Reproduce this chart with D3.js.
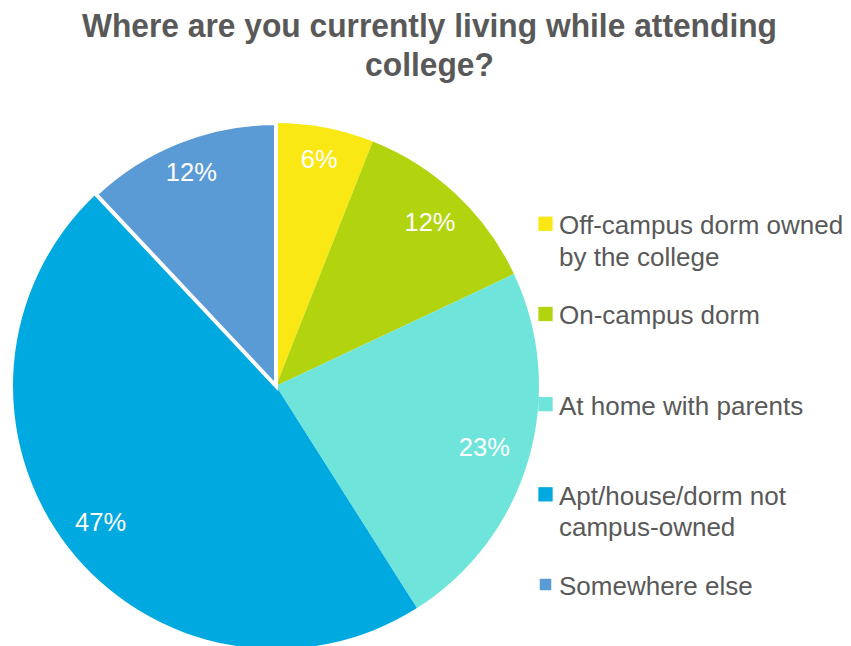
<!DOCTYPE html>
<html>
<head>
<meta charset="utf-8">
<script src="https://cdn.jsdelivr.net/npm/d3@7"></script>
<style>
  html, body { margin: 0; padding: 0; background: #ffffff; }
  svg { display: block; }
</style>
</head>
<body>
<svg id="chart" width="851" height="646"></svg>
<script>
// ---- data ----
const titleLines = ["Where are you currently living while attending", "college?"];
const categories = [
  "Off-campus dorm owned by the college",
  "On-campus dorm",
  "At home with parents",
  "Apt/house/dorm not campus-owned",
  "Somewhere else"
];
const values = [6, 12, 23, 47, 12];
const colors = ["#F9E814", "#B2D40E", "#6FE4DB", "#00A9DF", "#5B9BD5"];
// small radial tweaks to match the original label spots
const labelNudgeR = [6, 0, -8, -3, 5];

// ---- layout ----
const W = 851, H = 646;
const cx = 276, cy = 386, R = 263, labelR = 225;
const textColor = "#595959";

const svg = d3.select("#chart");

// title
const title = svg.append("g");
const tLine1 = title.append("text")
  .attr("x", 429.5).attr("y", 37)
  .attr("text-anchor", "middle")
  .attr("font-family", "'Liberation Sans', Arial, sans-serif")
  .attr("font-weight", "bold").attr("font-size", 33)
  .attr("fill", textColor)
  .text(titleLines[0]);
const len1 = tLine1.node().getComputedTextLength();
if (len1 > 695) tLine1.attr("textLength", 695).attr("lengthAdjust", "spacingAndGlyphs");
const tLine2 = title.append("text")
  .attr("x", 429.5).attr("y", 76)
  .attr("text-anchor", "middle")
  .attr("font-family", "'Liberation Sans', Arial, sans-serif")
  .attr("font-weight", "bold").attr("font-size", 33)
  .attr("fill", textColor)
  .text(titleLines[1]);
if (len1 > 695) {
  const l2 = tLine2.node().getComputedTextLength();
  tLine2.attr("textLength", l2 * 695 / len1).attr("lengthAdjust", "spacingAndGlyphs");
}

// pie
const data = categories.map((c, i) => ({ cat: c, value: values[i], color: colors[i], i }));
const pie = d3.pie().value(d => d.value).sort(null);
const arcs = pie(data);
const arc = d3.arc().innerRadius(0).outerRadius(R);

const g = svg.append("g").attr("transform", `translate(${cx},${cy})`);
g.selectAll("path.slice")
  .data(arcs)
  .enter().append("path")
  .attr("class", "slice")
  .attr("d", arc)
  .attr("fill", d => d.data.color)
  .attr("stroke", d => d.index === arcs.length - 1 ? "#ffffff" : "none")
  .attr("stroke-width", d => d.index === arcs.length - 1 ? 4 : 0)
  .attr("stroke-linejoin", "miter");

// slice labels
const fmt = d3.format(".0%");
const total = d3.sum(values);
g.selectAll("text.lbl")
  .data(arcs)
  .enter().append("text")
  .attr("class", "lbl")
  .attr("transform", d => {
    const a = (d.startAngle + d.endAngle) / 2;
    const r = labelR + labelNudgeR[d.index];
    return `translate(${r * Math.sin(a)},${-r * Math.cos(a)})`;
  })
  .attr("text-anchor", "middle")
  .attr("dy", "0.36em")
  .attr("font-family", "'Liberation Sans', Arial, sans-serif")
  .attr("font-size", 25.5)
  .attr("fill", "#ffffff")
  .text(d => fmt(d.data.value / total));

// legend
const legY = d3.scalePoint().domain(categories).range([234.3, 595]);
const legX = 559, legMaxW = 292, lineH = 31.5;
const leg = svg.append("g");
categories.forEach((c, i) => {
  const y0 = legY(c);
  const size = i === categories.length - 1 ? 11.5 : 14.3;
  leg.append("rect")
    .attr("x", 545.5 - size / 2).attr("y", y0 - 10.5 - size / 2)
    .attr("width", size).attr("height", size)
    .attr("fill", colors[i]);
  const t = leg.append("text")
    .attr("x", legX).attr("y", y0)
    .attr("font-family", "'Liberation Sans', Arial, sans-serif")
    .attr("font-size", 26)
    .attr("fill", textColor);
  const words = c.split(" ");
  let line = [], lineNo = 0;
  let tspan = t.append("tspan").attr("x", legX).attr("y", y0);
  words.forEach(w => {
    line.push(w);
    tspan.text(line.join(" "));
    if (tspan.node().getComputedTextLength() > legMaxW && line.length > 1) {
      line.pop();
      tspan.text(line.join(" "));
      line = [w];
      lineNo++;
      tspan = t.append("tspan").attr("x", legX).attr("y", y0 + lineNo * lineH).text(w);
    }
  });
});
</script>
</body>
</html>
